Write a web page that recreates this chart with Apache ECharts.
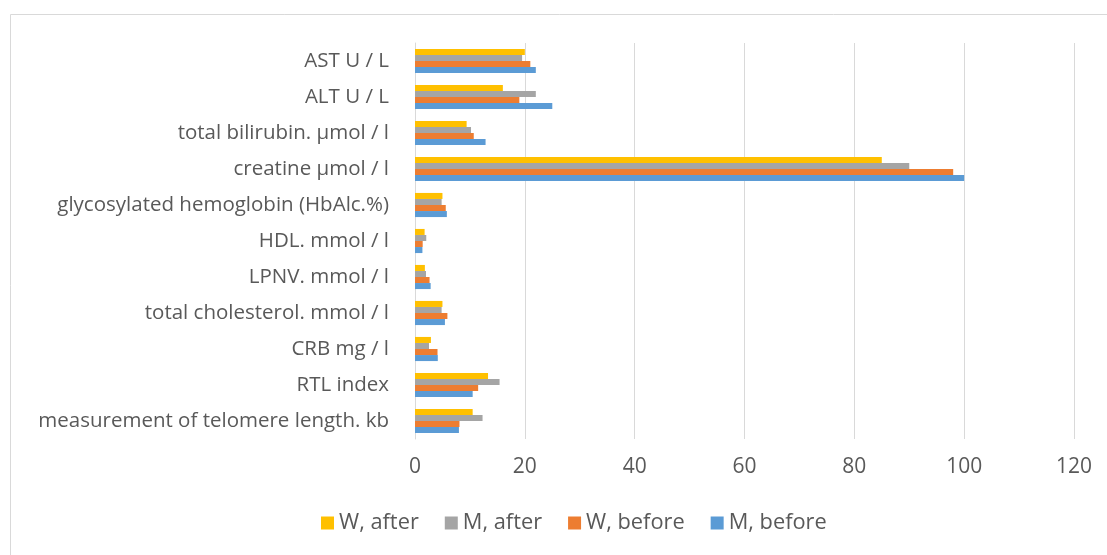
<!DOCTYPE html>
<html>
<head>
<meta charset="utf-8">
<script src="https://cdn.jsdelivr.net/npm/echarts@6/dist/echarts.min.js"></script>
<style>
html,body{margin:0;padding:0;background:#fff;}
#chart{width:1107px;height:555px;}
</style>
</head>
<body>
<div id="chart"></div>
<script>
// Categories listed bottom-to-top (category axis starts at the bottom)
const categories = [
  "measurement of telomere length. kb",
  "RTL index",
  "CRB mg / l",
  "total cholesterol. mmol / l",
  "LPNV. mmol / l",
  "HDL. mmol / l",
  "glycosylated hemoglobin (HbAlc.%)",
  "creatine µmol / l",
  "total bilirubin. µmol / l",
  "ALT U / L",
  "AST U / L"
];
const mBefore = [8.0, 10.5, 4.15, 5.45, 2.85, 1.35, 5.8, 100, 12.85, 25, 22];
const wBefore = [8.1, 11.5, 4.1, 5.9, 2.65, 1.4, 5.6, 98, 10.7, 19, 21];
const mAfter  = [12.3, 15.4, 2.55, 4.85, 2.0, 2.05, 4.85, 90, 10.2, 22, 19.5];
const wAfter  = [10.5, 13.3, 2.9, 5.0, 1.8, 1.75, 5.0, 85, 9.4, 16, 20];
// listed top-to-bottom within each group
const seriesNames = ["W, after", "M, after", "W, before", "M, before"];
const colors = ["#FFC000", "#A5A5A5", "#ED7D31", "#5B9BD5"];
const values = [wAfter, mAfter, wBefore, mBefore];

const chart = echarts.init(document.getElementById('chart'));
const font = "'Open Sans', sans-serif";
chart.setOption({
  animation: false,
  textStyle: {fontFamily: font},
  color: colors,
  graphic: [{
    type: 'rect', silent: true, z: -1,
    shape: {x: 10.5, y: 14.5, width: 1200, height: 700},
    style: {fill: 'none', stroke: '#D9D9D9', lineWidth: 1}
  }],
  grid: {left: 415, right: 33, top: 43, bottom: 116, containLabel: false},
  legend: {
    data: seriesNames,
    bottom: 16,
    left: 316,
    itemWidth: 13, itemHeight: 13, itemGap: 26,
    icon: 'rect',
    textStyle: {fontFamily: font, fontSize: 21.8, color: '#595959'}
  },
  xAxis: {
    type: 'value', min: 0, max: 120, interval: 20,
    axisLine: {show: false}, axisTick: {show: false},
    splitLine: {lineStyle: {color: '#D9D9D9', width: 1}},
    axisLabel: {fontFamily: font, fontSize: 21, color: '#595959', margin: 18}
  },
  yAxis: {
    type: 'category', data: categories,
    axisLine: {show: true, lineStyle: {color: '#D9D9D9'}},
    axisTick: {show: false},
    axisLabel: {fontFamily: font, fontSize: 20.5, color: '#595959', margin: 26}
  },
  series: seriesNames.map((n, i) => ({
    name: n, type: 'bar', data: values[i],
    barGap: '0%', barCategoryGap: '33%',
    itemStyle: {color: colors[i]}
  }))
});
</script>
</body>
</html>
